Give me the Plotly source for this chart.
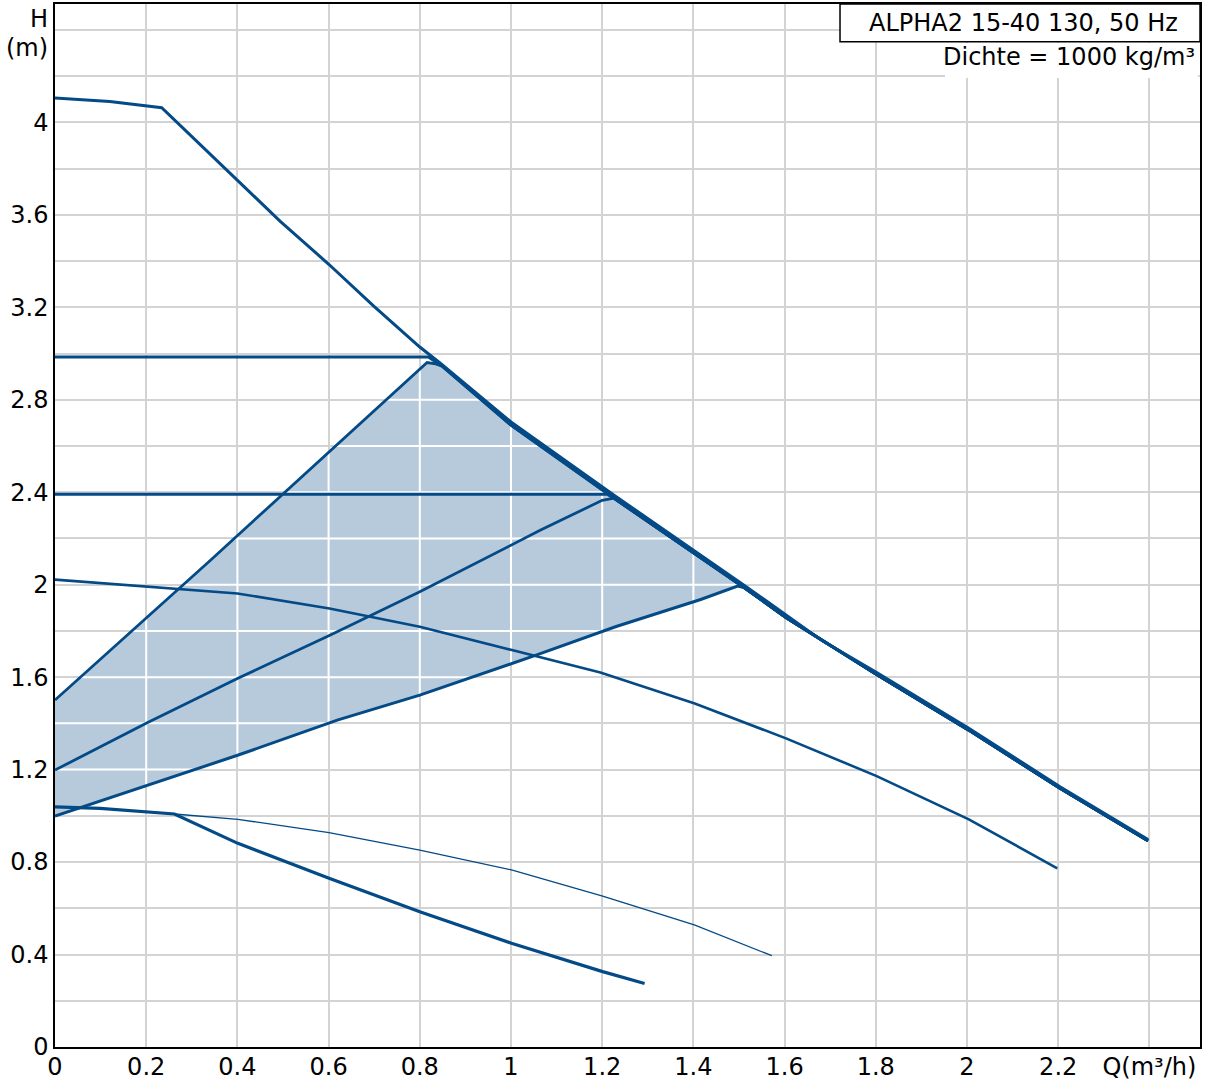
import numpy as np
import plotly.graph_objects as go

# ---------------- data ----------------
# maximum curve
max_q = [0, 0.12, 0.234, 0.318, 0.400, 0.494, 0.601, 0.699, 0.800, 0.845, 1.0, 1.226,
         1.511, 1.603, 1.683, 1.802, 2.003, 2.204, 2.397]
max_h = [4.105, 4.09, 4.063, 3.905, 3.752, 3.572, 3.385, 3.205, 3.028, 2.958, 2.704, 2.387,
         1.998, 1.868, 1.757, 1.62, 1.38, 1.126, 0.898]

# second line running along the maximum curve (curve tails)
band_q = [0.849, 1.0, 1.226, 1.511, 1.603, 1.802, 2.003, 2.204, 2.397]
band_h = [2.945, 2.690, 2.374, 1.988, 1.858, 1.611, 1.372, 1.119, 0.892]

# constant pressure curves
cp3_q = [0, 0.819]
cp3_h = [2.985, 2.985]
cp2_q = [0, 1.211]
cp2_h = [2.391, 2.391]

# proportional pressure curves
pp1_q = [0, 0.341, 0.816, 0.835]
pp1_h = [1.501, 2.106, 2.961, 2.955]
pp2_q = [0, 0.2, 0.4, 0.604, 0.8, 0.937, 1.065, 1.2, 1.218]
pp2_h = [1.198, 1.40, 1.594, 1.782, 1.969, 2.106, 2.236, 2.365, 2.373]
pp3_q = [0, 0.2, 0.402, 0.619, 0.8, 1.055, 1.229, 1.416, 1.497]
pp3_h = [0.999, 1.129, 1.263, 1.414, 1.522, 1.695, 1.818, 1.936, 1.994]

# fixed speed curve (middle)
mid_q = [0, 0.235, 0.4, 0.602, 0.8, 1.002, 1.196, 1.403, 1.603, 1.802, 2.004, 2.198]
mid_h = [2.022, 1.988, 1.962, 1.897, 1.818, 1.717, 1.62, 1.486, 1.335, 1.172, 0.985, 0.773]

# lower curves
low_thick_q = [0, 0.099, 0.262, 0.316, 0.401, 0.601, 0.800, 1.001, 1.201, 1.293]
low_thick_h = [1.039, 1.032, 1.008, 0.960, 0.881, 0.730, 0.585, 0.449, 0.326, 0.275]
low_thin_q = [0, 0.099, 0.262, 0.401, 0.601, 0.800, 1.001, 1.201, 1.402, 1.572]
low_thin_h = [1.039, 1.032, 1.008, 0.985, 0.927, 0.852, 0.766, 0.653, 0.528, 0.395]

x_ticks = [0, 0.2, 0.4, 0.6, 0.8, 1.0, 1.2, 1.4, 1.6, 1.8, 2.0, 2.2, 2.4]
x_labels = ["0", "0.2", "0.4", "0.6", "0.8", "1", "1.2", "1.4", "1.6", "1.8", "2", "2.2", "Q(m³/h)"]
y_ticks = [0, 0.2, 0.4, 0.6, 0.8, 1.0, 1.2, 1.4, 1.6, 1.8, 2.0, 2.2, 2.4, 2.6, 2.8, 3.0,
           3.2, 3.4, 3.6, 3.8, 4.0, 4.2, 4.4]
y_labels = ["0", "", "0.4", "", "0.8", "", "1.2", "", "1.6", "", "2", "", "2.4", "", "2.8", "",
            "3.2", "", "3.6", "", "4", "", ""]

title_text = "ALPHA2 15-40 130, 50 Hz"
density_text = "Dichte = 1000 kg/m³"

# ---------------- styling ----------------
BLUE = "#034a86"
FILL = "#b7cadb"
GRID = "#d3d3d3"
FONT = "DejaVu Sans, Verdana, sans-serif"
FS = 24

fig = go.Figure()

# shaded operating area
sel = [i for i, q in enumerate(max_q) if 0.845 <= q <= 1.511]
top_q = pp1_q[:3] + [max_q[i] for i in sel]
top_h = pp1_h[:3] + [max_h[i] for i in sel]
poly_q = top_q + pp3_q[::-1]
poly_h = top_h + pp3_h[::-1]
fig.add_trace(go.Scatter(x=poly_q, y=poly_h, fill="toself", fillcolor=FILL, mode="none",
                         hoverinfo="skip", showlegend=False))

# white grid lines inside the shaded area
gx, gy = [], []
for g in x_ticks:
    if 0 < g < 1.5:
        lo = float(np.interp(g, pp3_q, pp3_h))
        hi = float(np.interp(g, top_q, top_h))
        if hi > lo:
            gx += [g, g, None]
            gy += [lo, hi, None]
mq_rev = max_q[::-1]
mh_rev = max_h[::-1]
for h in y_ticks:
    left = max(0.0, float(np.interp(h, pp1_h[:3], pp1_q[:3])))
    right = min(float(np.interp(h, mh_rev, mq_rev)), float(np.interp(h, pp3_h, pp3_q)))
    if h > 1.0 and right > left:
        gx += [left, right, None]
        gy += [h, h, None]
fig.add_trace(go.Scatter(x=gx, y=gy, mode="lines", line=dict(color="white", width=2),
                         hoverinfo="skip", showlegend=False))


def line(q, h, w):
    fig.add_trace(go.Scatter(x=q, y=h, mode="lines", line=dict(color=BLUE, width=w),
                             hoverinfo="skip", showlegend=False))


def tail_from(q0):
    idx = [i for i, q in enumerate(band_q) if q >= q0]
    return [band_q[i] for i in idx], [band_h[i] for i in idx]


bq, bh = tail_from(0.849)
line(cp3_q + bq, cp3_h + bh, 3)
line(pp1_q + bq, pp1_h + bh, 2.8)
bq, bh = tail_from(1.226)
line(cp2_q + bq, cp2_h + bh, 3)
line(pp2_q + bq, pp2_h + bh, 2.8)
bq, bh = tail_from(1.511)
line(pp3_q + bq, pp3_h + bh, 3)
line(max_q, max_h, 3)
line(mid_q, mid_h, 2.6)
line(low_thick_q, low_thick_h, 3.2)
line(low_thin_q, low_thin_h, 1.3)

axis_common = dict(showline=True, mirror=True, linecolor="black", linewidth=1.5,
                   showgrid=True, gridcolor=GRID, gridwidth=2, zeroline=False,
                   ticks="", automargin=False,
                   tickfont=dict(family=FONT, size=FS, color="black"))
fig.update_xaxes(range=[0, 2.511], tickmode="array", tickvals=x_ticks, ticktext=x_labels,
                 ticklabelstandoff=-3, **axis_common)
fig.update_yaxes(range=[0, 4.512], tickmode="array", tickvals=y_ticks, ticktext=y_labels,
                 **axis_common)

# boxes at top right
fig.add_shape(type="rect", xref="paper", yref="paper", x0=0.6856, x1=1.0, y0=0.9639, y1=1.0,
              fillcolor="white", line=dict(color="black", width=1.5), layer="above")
fig.add_shape(type="rect", xref="paper", yref="paper", x0=0.7773, x1=0.9983, y0=0.929, y1=0.9625,
              fillcolor="white", line=dict(width=0), layer="above")

fig.add_annotation(text=title_text, xref="paper", yref="paper", x=0.9825, y=0.9822,
                   xanchor="right", yanchor="middle", showarrow=False,
                   font=dict(family=FONT, size=FS, color="black"))
fig.add_annotation(text=density_text, xref="paper", yref="paper", x=0.9974, y=0.9492,
                   xanchor="right", yanchor="middle", showarrow=False,
                   font=dict(family=FONT, size=FS, color="black"))
fig.add_annotation(text="H", xref="paper", yref="y", x=0, y=4.449, xanchor="right",
                   yanchor="middle", xshift=-5, showarrow=False,
                   font=dict(family=FONT, size=FS, color="black"))
fig.add_annotation(text="(m)", xref="paper", yref="y", x=0, y=4.321, xanchor="right",
                   yanchor="middle", xshift=-5, showarrow=False,
                   font=dict(family=FONT, size=FS, color="black"))

fig.update_layout(width=1208, height=1079, margin=dict(l=55, r=8, t=4, b=32),
                  paper_bgcolor="white", plot_bgcolor="white", showlegend=False)

fig.write_html("out.html", config={"displayModeBar": False},
               post_script="document.body.style.margin='0';")
